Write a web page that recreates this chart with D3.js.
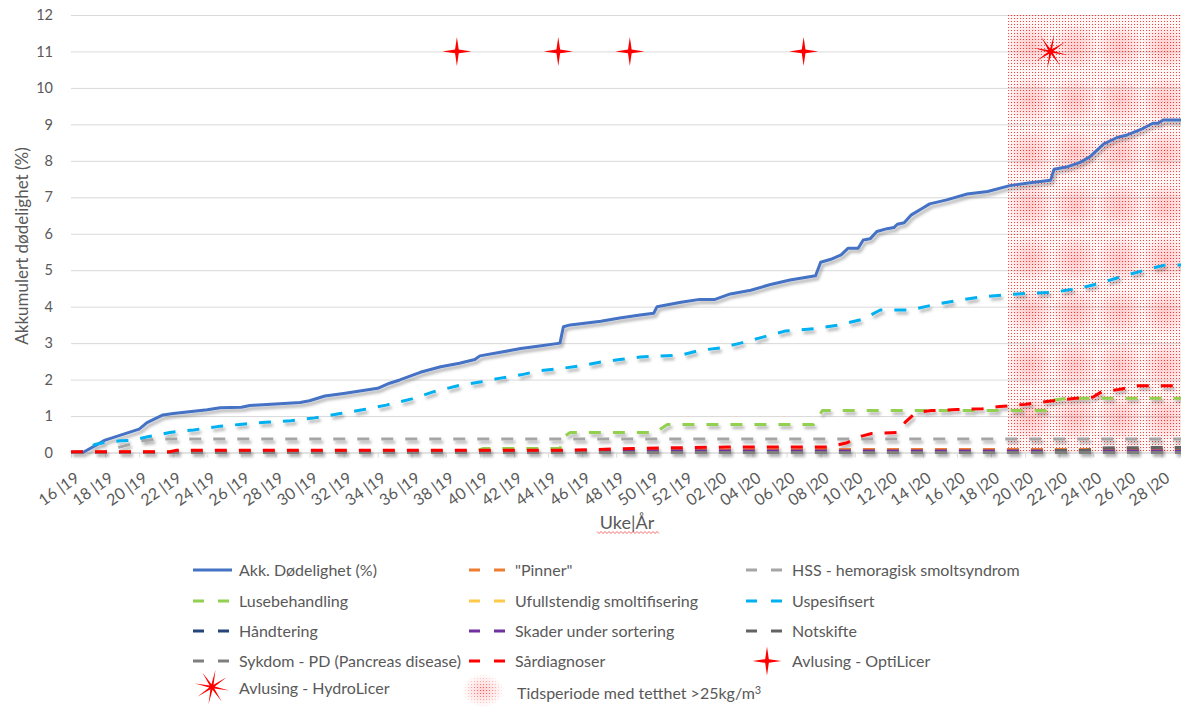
<!DOCTYPE html>
<html>
<head>
<meta charset="utf-8">
<script src="https://cdn.jsdelivr.net/npm/d3@7"></script>
<style>
  body { margin: 0; background: #fff; }
  svg text { font-family: Lato, "Open Sans", sans-serif; fill: #595959; }
</style>
</head>
<body>
<svg id="chart" width="1181" height="707"></svg>
<script>
// Week index counted from week 16 of 2019 (0 = "16 |19"); values are cumulative mortality in %.
const weekLabels = ["16 |19","18 |19","20 |19","22 |19","24 |19","26 |19","28 |19","30 |19","32 |19",
  "34 |19","36 |19","38 |19","40 |19","42 |19","44 |19","46 |19","48 |19","50 |19","52 |19",
  "02 |20","04 |20","06 |20","08 |20","10 |20","12 |20","14 |20","16 |20","18 |20","20 |20",
  "22 |20","24 |20","26 |20","28 |20"];
const yTicks = [0,1,2,3,4,5,6,7,8,9,10,11,12];
const lastWeek = 65.15;

const akkDodelighet = [[0,0],[0.7,0],[2.0,0.34],[4.0,0.64],[4.46,0.82],[5.4,1.03],[6.0,1.07],[8.0,1.17],
  [8.75,1.23],[10.0,1.24],[10.5,1.29],[12.0,1.33],[13.45,1.37],[14.0,1.42],[14.9,1.55],[16.0,1.62],
  [18.0,1.76],[18.7,1.90],[19.3,1.99],[20.5,2.2],[21.7,2.35],[22.8,2.45],[23.7,2.55],[24.0,2.65],
  [25.2,2.75],[26.4,2.85],[27.5,2.92],[28.7,3.0],[28.9,3.45],[29.3,3.5],[31.1,3.6],[32.2,3.69],
  [33.4,3.77],[34.2,3.82],[34.4,4.0],[35.8,4.12],[36.9,4.2],[37.8,4.2],[38.7,4.35],[39.9,4.45],
  [41.0,4.6],[42.2,4.73],[43.7,4.85],[44.0,5.22],[44.6,5.30],[45.2,5.42],[45.6,5.60],[46.2,5.60],
  [46.5,5.83],[46.9,5.86],[47.3,6.06],[47.9,6.14],[48.3,6.17],[48.5,6.26],[48.9,6.30],[49.3,6.51],
  [49.9,6.68],[50.4,6.82],[51.4,6.93],[52.6,7.09],[53.8,7.16],[55.1,7.32],[56.3,7.40],[57.5,7.47],
  [57.7,7.77],[58.5,7.84],[59.2,7.95],[59.8,8.11],[60.6,8.46],[61.4,8.64],[62.0,8.71],[62.8,8.86],
  [63.5,9.03],[63.8,9.03],[64.1,9.12],[65.15,9.12]];
const pinner = [[0,0.01],[29,0.03],[38,0.07],[44,0.08],[65.15,0.08]];
const hss = [[0,0],[1.8,0],[2.8,0.14],[4.2,0.32],[5.0,0.37],[65.15,0.37]];
const lusebehandling = [[0,0],[23.5,0],[24.2,0.11],[28.7,0.11],[29.0,0.45],[29.3,0.55],[34.3,0.55],
  [35.0,0.77],[43.6,0.77],[44.1,1.15],[57.2,1.15],[57.7,1.44],[58.5,1.49],[65.15,1.49]];
const ufullstendig = [[0,0],[5,0],[5.5,0.02],[65.15,0.02]];
const uspesifisert = [[0,0],[0.8,0.02],[1.4,0.22],[2.0,0.28],[2.9,0.32],[3.5,0.33],[4.5,0.43],[5.8,0.55],
  [7.2,0.62],[8.6,0.71],[9.9,0.77],[11.4,0.83],[12.9,0.87],[14.3,0.95],[15.8,1.07],[17.1,1.17],
  [18.5,1.30],[20.0,1.47],[21.3,1.67],[22.7,1.83],[24.1,1.94],[25.2,2.04],[26.4,2.13],[27.5,2.24],
  [28.7,2.30],[29.9,2.38],[31.1,2.48],[32.2,2.55],[33.4,2.62],[35.8,2.67],[36.9,2.80],[38.1,2.87],
  [39.3,3.0],[40.5,3.15],[41.9,3.33],[43.7,3.40],[45.1,3.50],[46.5,3.66],[47.5,3.91],[49.3,3.91],
  [50.6,4.05],[51.9,4.16],[53.3,4.26],[54.7,4.32],[56.3,4.37],[57.6,4.39],[59.1,4.50],[60.4,4.64],
  [61.6,4.82],[63.4,5.05],[64.2,5.14],[65.15,5.14]];
const handtering = [[0,0],[65.15,0]];
const skader = [[0,0],[28.6,0],[29.0,0.04],[65.15,0.04]];
const notskifte = [[0,0],[56.8,0],[57.8,0.05],[59.6,0.06],[60.4,0.12],[61.5,0.13],[65.15,0.14]];
const sykdomPD = [[0,0],[65.15,0]];
const sardiagnoser = [[0,0.02],[5.8,0.02],[6.2,0.06],[29,0.06],[33,0.11],[35.5,0.13],[38.5,0.15],
  [44.5,0.15],[45.5,0.26],[46.4,0.45],[47.0,0.52],[48.5,0.55],[49.0,0.85],[49.6,1.1],[50.5,1.15],
  [52,1.18],[53.5,1.20],[54.5,1.26],[56,1.32],[57.5,1.41],[59,1.49],[60,1.52],[60.5,1.67],
  [61.5,1.73],[62.6,1.83],[65.15,1.83]];

const optiLicerWeeks = [22.65, 28.6, 32.8, 43.0];
const hydroLicerWeeks = [57.5];
const treatmentLevel = 11;
const densityPeriod = [55.0, 65.15];

const series = [
  {name: "Akk. Dødelighet (%)", data: akkDodelighet, color: "#4472C4", dashed: false},
  {name: "\"Pinner\"", data: pinner, color: "#ED7D31", dashed: true},
  {name: "HSS - hemoragisk smoltsyndrom", data: hss, color: "#A5A5A5", dashed: true},
  {name: "Lusebehandling", data: lusebehandling, color: "#92D050", dashed: true},
  {name: "Ufullstendig smoltifisering", data: ufullstendig, color: "#FFC94A", dashed: true},
  {name: "Uspesifisert", data: uspesifisert, color: "#00B0F0", dashed: true},
  {name: "Håndtering", data: handtering, color: "#264478", dashed: true},
  {name: "Skader under sortering", data: skader, color: "#7030A0", dashed: true},
  {name: "Notskifte", data: notskifte, color: "#636363", dashed: true},
  {name: "Sykdom - PD (Pancreas disease)", data: sykdomPD, color: "#7F7F7F", dashed: true},
  {name: "Sårdiagnoser", data: sardiagnoser, color: "#FF0000", dashed: true}
];

const svg = d3.select("#chart");
const plot = {left: 71, right: 1181, top: 15, bottom: 452.5};
const x = d3.scaleLinear().domain([0, lastWeek]).range([plot.left, plot.right]);
const y = d3.scaleLinear().domain([0, 12]).range([plot.bottom, plot.top]);

const defs = svg.append("defs");
// soft drop shadow under the series lines
const sh = defs.append("filter").attr("id", "lineShadow")
  .attr("x", "-5%").attr("y", "-10%").attr("width", "115%").attr("height", "130%");
sh.append("feDropShadow").attr("dx", 2).attr("dy", 3).attr("stdDeviation", 1.8)
  .attr("flood-color", "#000").attr("flood-opacity", 0.3);

// dotted red texture for the high-density period
const dots = defs.append("pattern").attr("id", "dots").attr("patternUnits", "userSpaceOnUse")
  .attr("width", 3).attr("height", 3);
dots.append("rect").attr("width", 1).attr("height", 1).attr("fill", "#ff0000").attr("opacity", 0.75);
const blobGrad = defs.append("radialGradient").attr("id", "blobGrad");
blobGrad.append("stop").attr("offset", "0%").attr("stop-color", "#ff2020").attr("stop-opacity", 0.2);
blobGrad.append("stop").attr("offset", "60%").attr("stop-color", "#ff2020").attr("stop-opacity", 0.1);
blobGrad.append("stop").attr("offset", "100%").attr("stop-color", "#ff2020").attr("stop-opacity", 0.02);
const blobs = defs.append("pattern").attr("id", "blobs").attr("patternUnits", "userSpaceOnUse")
  .attr("x", x(densityPeriod[0])).attr("y", plot.top).attr("width", 45).attr("height", 53);
blobs.append("rect").attr("width", 45).attr("height", 53).attr("fill", "#ff2020").attr("opacity", 0.04);
blobs.append("circle").attr("cx", 22).attr("cy", 32).attr("r", 22).attr("fill", "url(#blobGrad)");
const swatchMaskGrad = defs.append("radialGradient").attr("id", "swatchFade");
swatchMaskGrad.append("stop").attr("offset", "0%").attr("stop-color", "#fff");
swatchMaskGrad.append("stop").attr("offset", "100%").attr("stop-color", "#000");
defs.append("mask").attr("id", "swatchMask").attr("maskContentUnits", "objectBoundingBox")
  .append("rect").attr("width", 1).attr("height", 1).attr("fill", "url(#swatchFade)");

// gridlines + y labels
const yAxis = d3.axisLeft(y).tickValues(yTicks).tickSize(-(plot.right - plot.left)).tickPadding(18);
const gy = svg.append("g").attr("transform", `translate(${plot.left},0)`).call(yAxis);
gy.select(".domain").remove();
gy.selectAll(".tick line").attr("stroke", "#d9d9d9").attr("stroke-width", 1);
gy.selectAll(".tick text").style("font-size", "14.5px").attr("fill", "#595959");

// high-density period
const shadeX0 = x(densityPeriod[0]), shadeX1 = x(densityPeriod[1]);
svg.append("rect").attr("x", shadeX0).attr("y", plot.top).attr("width", shadeX1 - shadeX0)
  .attr("height", plot.bottom - plot.top).attr("fill", "url(#blobs)");
svg.append("rect").attr("x", shadeX0).attr("y", plot.top).attr("width", shadeX1 - shadeX0)
  .attr("height", plot.bottom - plot.top).attr("fill", "url(#dots)");

// x axis
const xAxis = d3.axisBottom(x).tickValues(d3.range(0, 65, 2)).tickSize(5)
  .tickFormat((d, i) => weekLabels[i]);
const gx = svg.append("g").attr("transform", `translate(0,${plot.bottom})`).call(xAxis);
gx.select(".domain").attr("stroke", "#d9d9d9");
gx.selectAll(".tick line").attr("stroke", "#d9d9d9");
gx.selectAll(".tick text").attr("x", 0).attr("y", 0).attr("dy", 0)
  .attr("transform", "translate(9,28) rotate(-35)")
  .style("text-anchor", "end").style("font-size", "16px").attr("fill", "#595959");

// series
const line = d3.line().x(d => x(d[0])).y(d => y(d[1]));
const gLines = svg.append("g").attr("filter", "url(#lineShadow)");
series.forEach(s => {
  gLines.append("path").datum(s.data).attr("d", line).attr("fill", "none")
    .attr("stroke", s.color).attr("stroke-width", 3)
    .attr("stroke-linejoin", "round")
    .attr("stroke-dasharray", s.dashed ? "12,12" : null);
});

// treatment markers
function starPath(n, R, r, rot) {
  const pts = [];
  for (let i = 0; i < 2 * n; i++) {
    const a = rot + i * Math.PI / n - Math.PI / 2;
    const rad = i % 2 === 0 ? R : r;
    pts.push([rad * Math.cos(a), rad * Math.sin(a)]);
  }
  return "M" + pts.map(p => p[0].toFixed(2) + "," + p[1].toFixed(2)).join("L") + "Z";
}
const optiPath = starPath(4, 14.5, 2.6, 0);
const hydroPath = starPath(8, 17.5, 2.8, 0.2);
svg.append("g").selectAll("path").data(optiLicerWeeks).join("path")
  .attr("d", optiPath).attr("fill", "#FF0000")
  .attr("transform", d => `translate(${x(d)},${y(treatmentLevel)})`);
svg.append("g").selectAll("path").data(hydroLicerWeeks).join("path")
  .attr("d", hydroPath).attr("fill", "#FF0000")
  .attr("transform", d => `translate(${x(d)},${y(treatmentLevel)})`);

// axis titles
svg.append("text").attr("transform", "translate(28,246) rotate(-90)")
  .attr("text-anchor", "middle").style("font-size", "17px").text("Akkumulert dødelighet (%)");
svg.append("text").attr("x", 627).attr("y", 529).attr("text-anchor", "middle")
  .style("font-size", "18px").text("Uke|År");
// spell-check squiggle under the x title
const sq = d3.range(597, 660, 2).map((px, i) => [px, 532.5 + (i % 2 ? 1 : -1)]);
svg.append("path").attr("d", d3.line()(sq)).attr("fill", "none")
  .attr("stroke", "#e84848").attr("stroke-width", 0.8);

// legend
const legendCols = [193, 469, 746];
const legendRows = [570, 601, 631, 661];
const lg = svg.append("g");
series.forEach((s, i) => {
  const cx = legendCols[i % 3], cy = legendRows[Math.floor(i / 3)];
  lg.append("line").attr("x1", cx).attr("x2", cx + 39).attr("y1", cy).attr("y2", cy)
    .attr("stroke", s.color).attr("stroke-width", 3)
    .attr("stroke-dasharray", s.dashed ? "11,14" : null);
  lg.append("text").attr("x", cx + 46).attr("y", cy).attr("dy", "0.36em")
    .style("font-size", "16px").text(s.name);
});
// OptiLicer entry
lg.append("path").attr("d", optiPath).attr("fill", "#FF0000")
  .attr("transform", `translate(767,${legendRows[3]})`);
lg.append("text").attr("x", 792).attr("y", legendRows[3]).attr("dy", "0.36em")
  .style("font-size", "16px").text("Avlusing - OptiLicer");
// HydroLicer entry
lg.append("path").attr("d", hydroPath).attr("fill", "#FF0000")
  .attr("transform", "translate(212,687)");
lg.append("text").attr("x", 239).attr("y", 688).attr("dy", "0.36em")
  .style("font-size", "16px").text("Avlusing - HydroLicer");
// density period entry
lg.append("rect").attr("x", 462).attr("y", 674).attr("width", 42).attr("height", 33)
  .attr("fill", "url(#dots)").attr("mask", "url(#swatchMask)");
lg.append("rect").attr("x", 462).attr("y", 674).attr("width", 42).attr("height", 33)
  .attr("fill", "#ff2020").attr("opacity", 0.2).attr("mask", "url(#swatchMask)");
const tx = lg.append("text").attr("x", 517).attr("y", 693).attr("dy", "0.36em").style("font-size", "16px");
tx.append("tspan").text("Tidsperiode med tetthet >25kg/m");
tx.append("tspan").attr("dy", "-0.4em").style("font-size", "11px").text("3");
</script>
</body>
</html>
